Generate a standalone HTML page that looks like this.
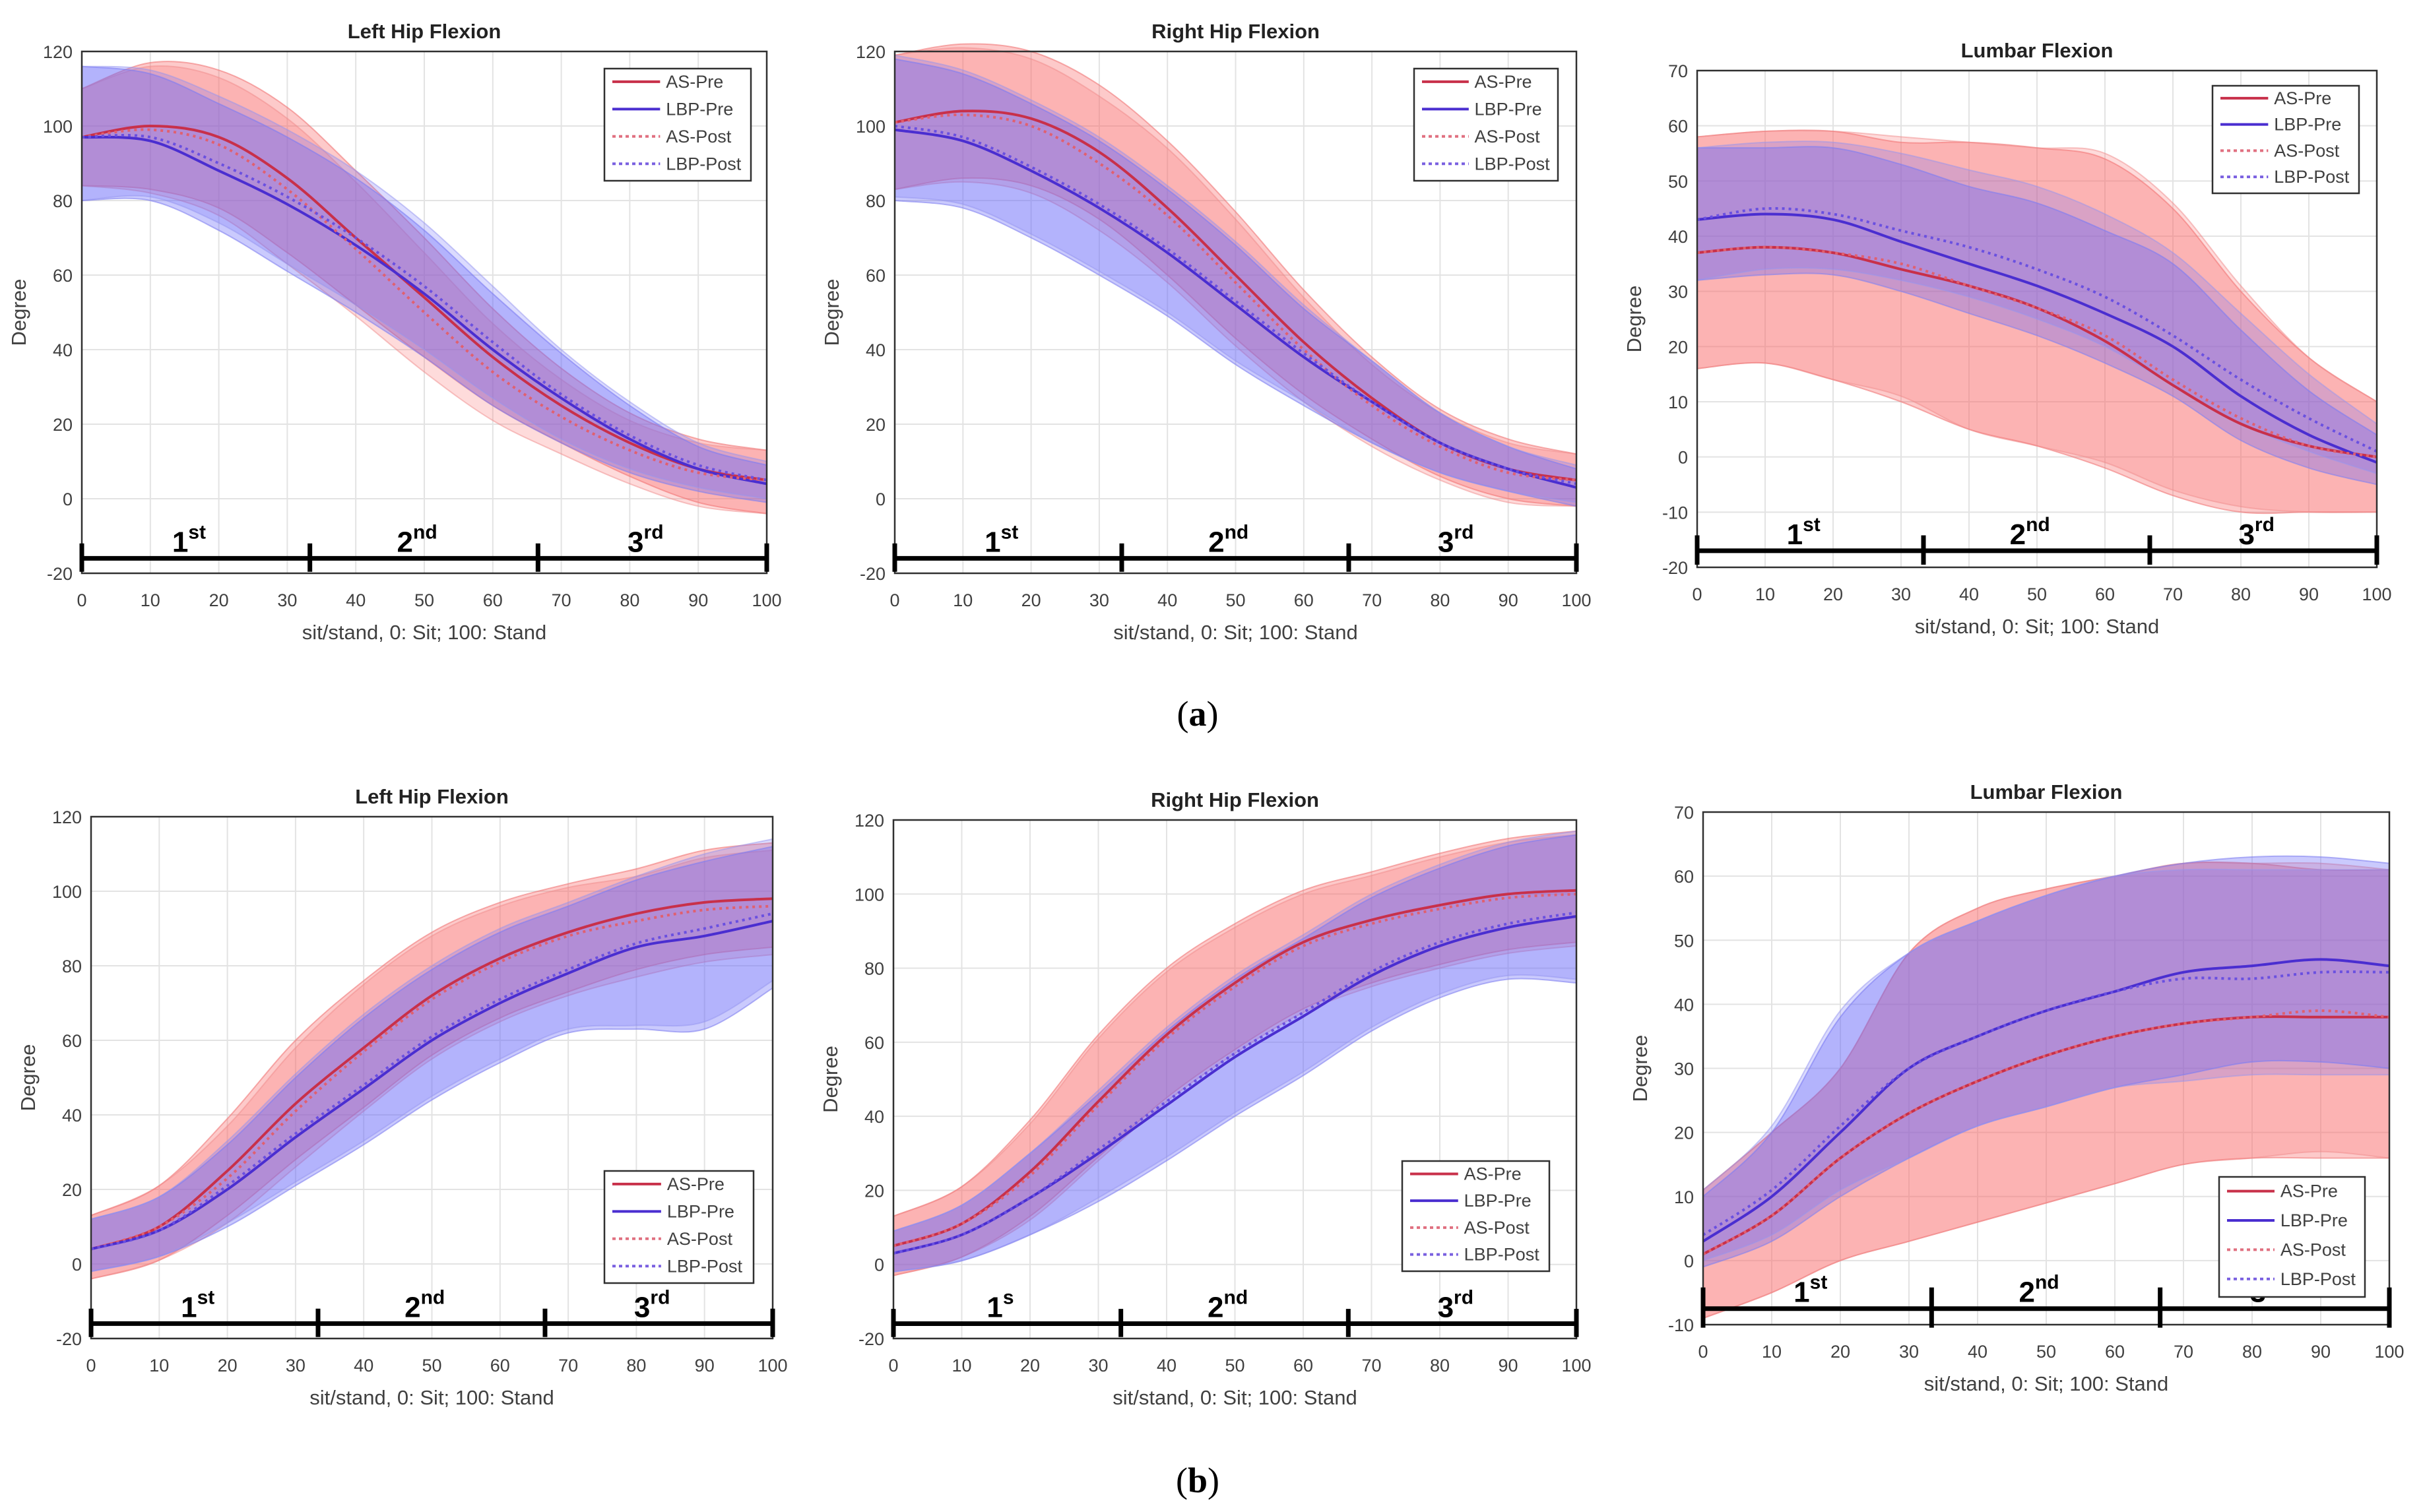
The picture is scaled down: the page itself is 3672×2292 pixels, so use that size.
<!DOCTYPE html>
<html><head><meta charset="utf-8">
<style>
html,body{margin:0;padding:0;background:#fff;}
svg{display:block;font-family:"Liberation Sans",Arial,sans-serif;}
</style></head>
<body>
<svg id="fig" width="3672" height="2292" viewBox="0 0 3672 2292" xmlns="http://www.w3.org/2000/svg">
<rect width="3672" height="2292" fill="#fff"/>
<text x="1815" y="1100" font-family="Liberation Serif,serif" font-size="54" text-anchor="middle">(<tspan font-weight="bold">a</tspan>)</text>
<text x="1815" y="2262" font-family="Liberation Serif,serif" font-size="54" text-anchor="middle">(<tspan font-weight="bold">b</tspan>)</text>
</svg>
<script>
// shared x samples (% of sit-to-stand)
const xs = [0,10,20,30,40,50,60,70,80,90,100];

// Panel 1: Left Hip Flexion (a)
const p1AsPre   = [97,100,97,86,70,54,38,25,15,8,5];
const p1LbpPre  = [97,96,88,79,68,55,40,27,16,8,4];
const p1AsPost  = [97,99,95,83,67,50,34,22,13,7,5];
const p1LbpPost = [97,97,90,81,70,57,42,28,17,9,5];
const p1AsUp  = [13,17,18,19,18,16,13,10,8,8,8];
const p1AsDn  = [13,17,19,20,18,16,13,10,9,9,9];
const p1LbpUp = [19,18,18,18,18,17,15,12,9,6,5];
const p1LbpDn = [17,16,16,18,18,17,15,12,9,6,5];

// Panel 2: Right Hip Flexion (a)
const p2AsPre   = [101,104,102,93,78,60,42,27,15,8,5];
const p2LbpPre  = [99,96,88,78,66,52,38,26,15,8,3];
const p2AsPost  = [101,103,100,90,76,58,40,25,14,7,5];
const p2LbpPost = [100,97,89,79,67,53,39,26,15,8,4];
const p2AsUp  = [18,18,18,18,18,17,14,11,9,8,7];
const p2AsDn  = [18,18,18,18,18,17,14,11,9,8,7];
const p2LbpUp = [19,18,18,18,17,16,13,11,8,6,5];
const p2LbpDn = [19,18,18,18,17,16,13,11,8,6,5];

// Panel 3: Lumbar Flexion (a)
const p3AsPre   = [37,38,37,34,31,27,21,13,6,2,0];
const p3LbpPre  = [43,44,43,39,35,31,26,20,11,4,-1];
const p3AsPost  = [37,38,37,35,31,27,22,14,7,2,0];
const p3LbpPost = [43,45,44,41,38,34,29,22,14,7,1];
const p3AsUp  = [21,21,22,23,26,29,33,32,24,16,10];
const p3AsDn  = [21,21,23,24,26,25,23,20,16,12,10];
const p3LbpUp = [13,12,13,14,14,15,15,15,12,8,5];
const p3LbpDn = [11,11,10,9,9,9,9,9,8,6,4];

// Panel 4: Left Hip Flexion (b)
const p4AsPre   = [4,10,25,43,58,72,82,89,94,97,98];
const p4LbpPre  = [4,9,20,34,47,60,70,78,85,88,92];
const p4AsPost  = [4,10,23,41,57,71,81,88,92,95,96];
const p4LbpPost = [4,9,21,35,48,61,71,79,86,90,94];
const p4AsUp  = [9,11,14,17,18,17,15,13,12,14,15];
const p4AsDn  = [8,9,12,15,16,16,16,16,15,14,13];
const p4LbpUp = [8,9,12,16,19,19,19,18,18,20,20];
const p4LbpDn = [6,7,10,13,15,16,16,16,22,25,18];

// Panel 5: Right Hip Flexion (b)
const p5AsPre   = [5,11,25,44,62,76,87,93,97,100,101];
const p5LbpPre  = [3,8,18,30,43,56,67,78,86,91,94];
const p5AsPost  = [5,11,24,43,61,75,86,92,96,99,100];
const p5LbpPost = [3,8,18,31,44,57,68,79,87,92,95];
const p5AsUp  = [8,10,14,18,18,16,14,13,14,15,16];
const p5AsDn  = [8,9,12,15,17,18,18,17,16,15,14];
const p5LbpUp = [6,8,12,16,20,21,21,21,21,22,22];
const p5LbpDn = [5,7,10,13,15,16,16,15,14,14,18];

// Panel 6: Lumbar Flexion (b)
const p6AsPre   = [1,7,16,23,28,32,35,37,38,38,38];
const p6LbpPre  = [3,10,20,30,35,39,42,45,46,47,46];
const p6AsPost  = [1,7,16,23,28,32,35,37,38,39,38];
const p6LbpPost = [4,11,21,30,35,39,42,44,44,45,45];
const p6AsUp  = [10,13,14,25,27,26,25,25,24,23,23];
const p6AsDn  = [10,12,16,20,22,23,23,22,22,22,22];
const p6LbpUp = [7,10,18,18,18,18,18,17,17,16,16];
const p6LbpDn = [4,7,10,14,14,15,15,16,15,16,16];

const xTicks = [0,10,20,30,40,50,60,70,80,90,100];
const hipYTicks = [-20,0,20,40,60,80,100,120];
const lumAYTicks = [-20,-10,0,10,20,30,40,50,60,70];
const lumBYTicks = [-10,0,10,20,30,40,50,60,70];
const seriesNames = ["AS-Pre","LBP-Pre","AS-Post","LBP-Post"];
const phaseBreaks = [0,33.3,66.6,100];

const NS = "http://www.w3.org/2000/svg";
const svg = document.getElementById('fig');
function mk(tag, attrs, parent){ const e=document.createElementNS(NS,tag); for(const k in attrs) e.setAttribute(k,attrs[k]); (parent||svg).appendChild(e); return e; }

function smoothPath(pts){
  let d = "M"+pts[0][0].toFixed(1)+","+pts[0][1].toFixed(1);
  for(let i=0;i<pts.length-1;i++){
    const p0=pts[Math.max(0,i-1)], p1=pts[i], p2=pts[i+1], p3=pts[Math.min(pts.length-1,i+2)];
    const c1=[p1[0]+(p2[0]-p0[0])/6, p1[1]+(p2[1]-p0[1])/6];
    const c2=[p2[0]-(p3[0]-p1[0])/6, p2[1]-(p3[1]-p1[1])/6];
    d += " C"+c1[0].toFixed(1)+","+c1[1].toFixed(1)+" "+c2[0].toFixed(1)+","+c2[1].toFixed(1)+" "+p2[0].toFixed(1)+","+p2[1].toFixed(1);
  }
  return d;
}

function panel(cfg){
  const g = mk('g',{});
  
  
  const sx = v => cfg.x0 + (v-0)/(100)*(cfg.x1-cfg.x0);
  const sy = v => cfg.yB + (v-cfg.ymin)/(cfg.ymax-cfg.ymin)*(cfg.yT-cfg.yB);
  xTicks.forEach(t=>{ const l=mk('line',{x1:sx(t),x2:sx(t),y1:cfg.yT,y2:cfg.yB,stroke:'#e3e3e3','stroke-width':2},g);
      });
  cfg.yTicks.forEach(t=>{ const l=mk('line',{x1:cfg.x0,x2:cfg.x1,y1:sy(t),y2:sy(t),stroke:'#e3e3e3','stroke-width':2},g);
      });
  const bands = [
    [cfg.d.asPre, cfg.d.asUp, cfg.d.asDn, 'rgba(250,95,95,0.33)','rgba(240,120,120,0.6)','as-pre-band'],
    [cfg.d.asPost, cfg.d.asUp, cfg.d.asDn, 'rgba(250,110,110,0.25)','rgba(240,140,140,0.5)','as-post-band'],
    [cfg.d.lbpPre, cfg.d.lbpUp, cfg.d.lbpDn, 'rgba(95,95,250,0.33)','rgba(130,130,240,0.6)','lbp-pre-band'],
    [cfg.d.lbpPost, cfg.d.lbpUp, cfg.d.lbpDn, 'rgba(110,110,250,0.25)','rgba(150,150,240,0.5)','lbp-post-band']
  ];
  bands.forEach(b=>{
    const up = xs.map((x,i)=>[sx(x), sy(b[0][i]+b[1][i])]);
    const dn = xs.map((x,i)=>[sx(x), sy(b[0][i]-b[2][i])]).reverse();
    const d = smoothPath(up) + " L" + smoothPath(dn).slice(1) + " Z";
    const p = mk('path',{d:d,fill:b[3],stroke:b[4],'stroke-width':2},g);
    
    
  });
  const lines = [
    [cfg.d.asPre,'#c8304a',null,'as-pre-line'],
    [cfg.d.lbpPre,'#4a2ed0',null,'lbp-pre-line'],
    [cfg.d.asPost,'#e06070','4 6','as-post-line'],
    [cfg.d.lbpPost,'#6a50e0','4 6','lbp-post-line']
  ];
  lines.forEach(l=>{
    const pts = xs.map((x,i)=>[sx(x), sy(l[0][i])]);
    const a = {d:smoothPath(pts),fill:'none',stroke:l[1],'stroke-width':4};
    if(l[2]) a['stroke-dasharray']=l[2];
    const p = mk('path',a,g);
    
    
  });
  const box = mk('rect',{x:cfg.x0,y:cfg.yT,width:cfg.x1-cfg.x0,height:cfg.yB-cfg.yT,fill:'none',stroke:'#303030','stroke-width':2.5},g);
   
  xTicks.forEach(t=>{ const tx=mk('text',{x:sx(t),y:cfg.yB+50,'font-size':27,fill:'#404040','text-anchor':'middle'},g); tx.textContent=t;
      });
  cfg.yTicks.forEach(t=>{ const tx=mk('text',{x:cfg.x0-14,y:sy(t)+10,'font-size':27,fill:'#404040','text-anchor':'end'},g); tx.textContent=t;
      });
  const xl=mk('text',{x:(cfg.x0+cfg.x1)/2,y:cfg.yB+100,'font-size':31,fill:'#404040','text-anchor':'middle'},g);
  xl.textContent='sit/stand, 0: Sit; 100: Stand';
   
  const yc=(cfg.yT+cfg.yB)/2;
  const yl=mk('text',{x:cfg.x0-85,y:yc,'font-size':31,fill:'#404040','text-anchor':'middle',transform:'rotate(-90 '+(cfg.x0-85)+' '+yc+')'},g);
  yl.textContent='Degree';
   
  const ti=mk('text',{x:(cfg.x0+cfg.x1)/2,y:cfg.yT-20,'font-size':31,'font-weight':'bold',fill:'#222','text-anchor':'middle'},g);
  ti.textContent=cfg.title;
   
  const by = sy(cfg.barY), tTop = sy(cfg.barY+cfg.tickH), tBot = sy(cfg.barY-cfg.tickH*0.9);
  const bar=mk('line',{x1:sx(0),x2:sx(100),y1:by,y2:by,stroke:'#000','stroke-width':7},g);
   
  phaseBreaks.forEach(p=>{ const l=mk('line',{x1:sx(p),x2:sx(p),y1:tTop,y2:tBot,stroke:'#000','stroke-width':7},g);
      });
  cfg.phaseLabels.forEach((lb,i)=>{
    const cx=sx((phaseBreaks[i]+phaseBreaks[i+1])/2 - 1);
    const t=mk('text',{x:cx,y:by-10,'font-size':44,'font-weight':'bold',fill:'#000','text-anchor':'middle'},g);
     
    const m=mk('tspan',{},t); m.textContent=lb[0];
    const s=mk('tspan',{dy:-20,'font-size':30},t); s.textContent=lb[1];
  });
  const L=cfg.legend;
  const lg=mk('g',{},g);
   
  mk('rect',{x:L[0],y:L[1],width:L[2],height:L[3],fill:'#fff',stroke:'#303030','stroke-width':2.5},lg);
  const styles=[['#c8304a',null],['#4a2ed0',null],['#e07080','5 5'],['#7a60e0','5 5']];
  seriesNames.forEach((n,i)=>{
    const yy=L[1]+L[3]*(i+0.6)/4.1+4;
    const e=mk('g',{},lg);
     
    const a={x1:L[0]+12,x2:L[0]+L[2]*0.38,y1:yy-9,y2:yy-9,stroke:styles[i][0],'stroke-width':4};
    if(styles[i][1]) a['stroke-dasharray']=styles[i][1];
    mk('line',a,e);
    const t=mk('text',{x:L[0]+L[2]*0.42,y:yy,'font-size':27,fill:'#404040'},e); t.textContent=n;
  });
}

const std=[['1','st'],['2','nd'],['3','rd']];
panel({name:'left-hip-flexion-a',title:'Left Hip Flexion',x0:124,x1:1162,yT:78,yB:869,ymin:-20,ymax:120,yTicks:hipYTicks,barY:-16,tickH:4,phaseLabels:std,legend:[916,104,222,170],
  d:{asPre:p1AsPre,lbpPre:p1LbpPre,asPost:p1AsPost,lbpPost:p1LbpPost,asUp:p1AsUp,asDn:p1AsDn,lbpUp:p1LbpUp,lbpDn:p1LbpDn}});
panel({name:'right-hip-flexion-a',title:'Right Hip Flexion',x0:1356,x1:2389,yT:78,yB:869,ymin:-20,ymax:120,yTicks:hipYTicks,barY:-16,tickH:4,phaseLabels:std,legend:[2143,104,218,170],
  d:{asPre:p2AsPre,lbpPre:p2LbpPre,asPost:p2AsPost,lbpPost:p2LbpPost,asUp:p2AsUp,asDn:p2AsDn,lbpUp:p2LbpUp,lbpDn:p2LbpDn}});
panel({name:'lumbar-flexion-a',title:'Lumbar Flexion',x0:2572,x1:3602,yT:107,yB:860,ymin:-20,ymax:70,yTicks:lumAYTicks,barY:-17,tickH:2.8,phaseLabels:std,legend:[3353,130,222,163],
  d:{asPre:p3AsPre,lbpPre:p3LbpPre,asPost:p3AsPost,lbpPost:p3LbpPost,asUp:p3AsUp,asDn:p3AsDn,lbpUp:p3LbpUp,lbpDn:p3LbpDn}});
panel({name:'left-hip-flexion-b',title:'Left Hip Flexion',x0:138,x1:1171,yT:1238,yB:2029,ymin:-20,ymax:120,yTicks:hipYTicks,barY:-16,tickH:4,phaseLabels:std,legend:[916,1775,226,170],
  d:{asPre:p4AsPre,lbpPre:p4LbpPre,asPost:p4AsPost,lbpPost:p4LbpPost,asUp:p4AsUp,asDn:p4AsDn,lbpUp:p4LbpUp,lbpDn:p4LbpDn}});
panel({name:'right-hip-flexion-b',title:'Right Hip Flexion',x0:1354,x1:2389,yT:1243,yB:2029,ymin:-20,ymax:120,yTicks:hipYTicks,barY:-16,tickH:4,phaseLabels:[['1','s'],['2','nd'],['3','rd']],legend:[2125,1760,223,167],
  d:{asPre:p5AsPre,lbpPre:p5LbpPre,asPost:p5AsPost,lbpPost:p5LbpPost,asUp:p5AsUp,asDn:p5AsDn,lbpUp:p5LbpUp,lbpDn:p5LbpDn}});
panel({name:'lumbar-flexion-b',title:'Lumbar Flexion',x0:2581,x1:3621,yT:1231,yB:2008,ymin:-10,ymax:70,yTicks:lumBYTicks,barY:-7.5,tickH:3.3,phaseLabels:[['1','st'],['2','nd'],['3','rd']],legend:[3363,1784,221,182],
  d:{asPre:p6AsPre,lbpPre:p6LbpPre,asPost:p6AsPost,lbpPost:p6LbpPost,asUp:p6AsUp,asDn:p6AsDn,lbpUp:p6LbpUp,lbpDn:p6LbpDn}});
</script>
</body></html>
